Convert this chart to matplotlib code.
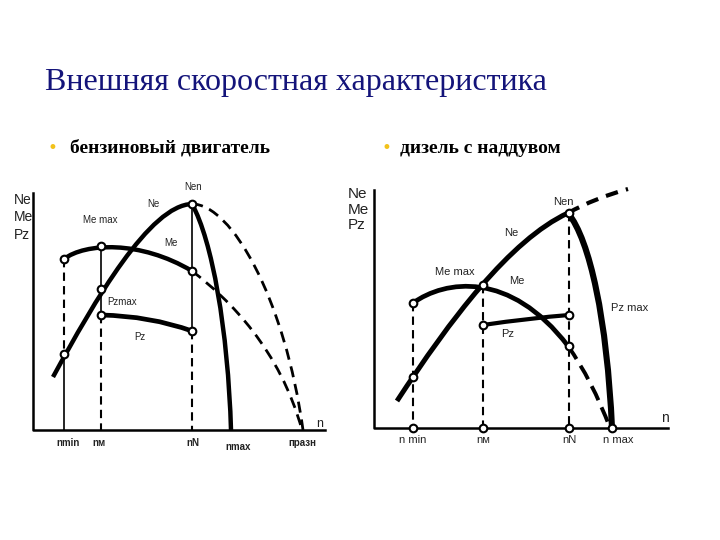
import matplotlib.pyplot as plt
from matplotlib.path import Path
from matplotlib.patches import PathPatch

# Schematic drawn in picture coordinates (x to the right, y downwards).
# Each curve: start point, Bezier control points, end point.

# ---- left panel: petrol engine ----
L_ne_solid = [(53, 377), (95, 300), (150, 205), (192, 204)]
L_ne_dash = [(192, 204), (232, 204), (285, 300), (303, 430)]
L_me_solid = [(64, 259), (85, 243), (140, 240), (192, 271)]
L_me_dash = [(192, 271), (230, 300), (280, 350), (302, 430)]
L_nmax = [(192, 204), (212, 240), (228, 330), (231, 430)]
L_pz = [(101, 315), (150, 316), (192, 331)]
L_pts_x = [64, 64, 101, 101, 101, 192, 192, 192]
L_pts_y = [259, 354, 246, 289, 315, 204, 271, 331]
L_ticks = ["nmin", "nм", "nN", "nmax", "празн"]
L_tick_x = [68, 99, 193, 238, 302]

# ---- right panel: turbo diesel ----
R_ne = [(397, 401), (450, 320), (510, 240), (568, 213)]
R_ne_dash = [(568, 213), (595, 198), (628, 189)]
R_me = [(413, 303), (445, 280), (510, 270), (568, 346)]
R_me_dash = [(568, 346), (592, 380), (610, 428)]
R_pz = [(483, 325), (530, 318), (569, 315)]
R_pzmax = [(568, 213), (590, 240), (607, 320), (612, 428)]
R_pts_x = [413, 413, 413, 483, 483, 483, 569, 569, 569, 569, 612]
R_pts_y = [303, 377, 428, 285, 325, 428, 213, 315, 346, 428, 428]
R_ticks = ["n min", "nм", "nN", "n max"]
R_tick_x = [413, 483, 569, 618]

fig = plt.figure(figsize=(7.2, 5.4), dpi=100)
ax = fig.add_axes([0, 0, 1, 1])
ax.set_xlim(0, 720)
ax.set_ylim(540, 0)
ax.axis("off")


def curve(pts, **kw):
    code = Path.CURVE4 if len(pts) == 4 else Path.CURVE3
    path = Path(pts, [Path.MOVETO] + [code] * (len(pts) - 1))
    ax.add_patch(PathPatch(path, fill=False, edgecolor="black", capstyle="butt", **kw))


dash = (0, (4, 2.5))
thin = dict(color="black", lw=1.2)
vdash = dict(color="black", lw=1.5, ls=dash)
mk = dict(ls="none", marker="o", ms=5.5, mfc="white", mec="black", mew=1.5, zorder=5)

# title and bullets
ax.text(45, 90, "Внешняя скоростная характеристика", family="Liberation Serif",
        fontsize=23, color="#14147a")
for bx, tx, txt in [(47, 70, "бензиновый двигатель"), (381, 400, "дизель с наддувом")]:
    ax.text(bx, 153, "•", family="DejaVu Sans", fontsize=12, color="#f2c21b")
    ax.text(tx, 153, txt, family="Liberation Serif", fontsize=14, fontweight="bold")

# left panel
ax.plot([33, 33, 325], [193, 430, 430], color="black", lw=1.8)
curve(L_ne_solid, lw=3.2)
curve(L_ne_dash, lw=2.0, ls=dash)
curve(L_me_solid, lw=3.2)
curve(L_me_dash, lw=2.0, ls=dash)
curve(L_nmax, lw=3.2)
curve(L_pz, lw=3.4)
ax.plot([64, 64], [259, 354], **vdash)
ax.plot([64, 64], [354, 430], **thin)
ax.plot([101, 101], [246, 315], **thin)
ax.plot([101, 101], [315, 430], **vdash)
ax.plot([192, 192], [204, 331], **thin)
ax.plot([192, 192], [331, 430], **vdash)
ax.plot(L_pts_x, L_pts_y, **mk)

lab = dict(family="Liberation Sans", color="#222222")
ax.text(14, 193, "Ne\nMe\nPz", fontsize=10, va="top", linespacing=1.3, **lab)
ax.text(193, 190, "Nen", fontsize=7, ha="center", **lab)
ax.text(153, 207, "Ne", fontsize=7, ha="center", **lab)
ax.text(100, 223, "Me max", fontsize=7, ha="center", **lab)
ax.text(171, 246, "Me", fontsize=7, ha="center", **lab)
ax.text(122, 302, "Pzmax", fontsize=7, ha="center", va="center", **lab)
ax.text(140, 337, "Pz", fontsize=7, ha="center", va="center", **lab)
ax.text(320, 424, "n", fontsize=9, ha="center", va="center", **lab)
for x, t in zip(L_tick_x, L_ticks):
    ax.text(x, 443 if t != "nmax" else 447, t, fontsize=7, ha="center", va="center",
            fontweight="bold", **lab)

# right panel
ax.plot([374, 374, 668], [190, 428, 428], color="black", lw=1.8)
curve(R_ne, lw=3.6)
curve(R_ne_dash, lw=3.0, ls=(0, (3, 2)))
curve(R_me, lw=3.4)
curve(R_me_dash, lw=2.8, ls=(0, (4, 2)))
curve(R_pz, lw=3.0)
curve(R_pzmax, lw=4.4)
for x, y0 in [(413, 303), (483, 285), (569, 213)]:
    ax.plot([x, x], [y0, 428], **vdash)
ax.plot(R_pts_x, R_pts_y, **mk)

ax.text(348, 187, "Ne\nMe\nPz", fontsize=11, va="top", linespacing=1.15, **lab)
ax.text(563, 202, "Nen", fontsize=8, ha="center", va="center", **lab)
ax.text(511, 233, "Ne", fontsize=8, ha="center", va="center", **lab)
ax.text(455, 272, "Me max", fontsize=8, ha="center", va="center", **lab)
ax.text(517, 281, "Me", fontsize=8, ha="center", va="center", **lab)
ax.text(508, 334, "Pz", fontsize=8, ha="center", va="center", **lab)
ax.text(630, 308, "Pz max", fontsize=8, ha="center", va="center", **lab)
ax.text(665, 418, "n", fontsize=10, ha="center", va="center", **lab)
for x, t in zip(R_tick_x, R_ticks):
    ax.text(x, 440, t, fontsize=8, ha="center", va="center", **lab)

fig.savefig("out.png", dpi=100)
